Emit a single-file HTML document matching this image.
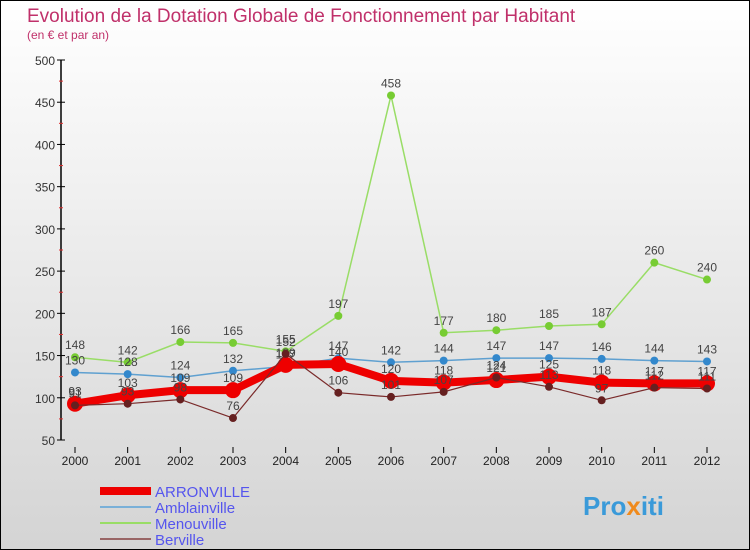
<!DOCTYPE html>
<html><head><meta charset="utf-8"><style>
body{margin:0;}
#c{width:750px;height:550px;position:relative;overflow:hidden;font-family:"Liberation Sans",sans-serif;}
svg text{font-family:"Liberation Sans",sans-serif;}
</style></head><body>
<div id="c">
<svg id="s" width="750" height="550" xmlns="http://www.w3.org/2000/svg">
<defs><linearGradient id="bg" x1="0" y1="0" x2="0" y2="1"><stop offset="0" stop-color="#ffffff"/><stop offset="1" stop-color="#d4d4d4"/></linearGradient></defs>
<rect x="0.5" y="0.5" width="749" height="549" fill="url(#bg)" stroke="#000"/>
<text x="27" y="22" font-size="19" fill="#c0306a">Evolution de la Dotation Globale de Fonctionnement par Habitant</text>
<text x="27" y="39" font-size="12" fill="#c0306a">(en € et par an)</text>
<g id="axes"></g><g id="series"></g><g id="legend"></g>
<text x="583" y="515" font-size="26" font-weight="bold" fill="#3a9ad9">Pro<tspan fill="#f08a1c">x</tspan>iti</text>
</svg></div>
<script>
const years=[2000,2001,2002,2003,2004,2005,2006,2007,2008,2009,2010,2011,2012];
const yTicks=[50,100,150,200,250,300,350,400,450,500];
const arronville=[93,103,109,109,139,140,120,118,121,125,118,117,117];
const amblainville=[130,128,124,132,137,147,142,144,147,147,146,144,143];
const menouville=[148,142,166,165,155,197,458,177,180,185,187,260,240];
const berville=[91,93,98,76,152,106,101,107,124,113,97,112,111];
const NS="http://www.w3.org/2000/svg";
function X(i){return 75+i*(707-75)/(years.length-1);}
function Y(v){return 440-(v-50)*(380/450);}
function mk(t,a,p){const e=document.createElementNS(NS,t);for(const k in a)e.setAttribute(k,a[k]);p.appendChild(e);return e;}
const ax=document.getElementById('axes');
const yl=mk('line',{x1:61,y1:Y(500),x2:61,y2:Y(50),stroke:'#000','stroke-width':1.5},ax);


yTicks.forEach(v=>{
 const t=mk('line',{x1:57,x2:65,y1:Y(v),y2:Y(v),stroke:'#000'},ax);
 
 
 if(v<500){const m=mk('line',{x1:59,x2:63,y1:Y(v+25),y2:Y(v+25),stroke:'#e03030'},ax);
 
 }
 const l=mk('text',{x:55,y:Y(v)+5,'text-anchor':'end','font-size':12,fill:'#333'},ax);l.textContent=v;
 
 
});
years.forEach((y,i)=>{
 const t=mk('line',{x1:X(i),x2:X(i),y1:447,y2:453,stroke:'#000'},ax);
 
 
 const l=mk('text',{x:X(i),y:465,'text-anchor':'middle','font-size':12,fill:'#222'},ax);l.textContent=y;
 
 
});
const sg=document.getElementById('series');
function series(name,data,color,w,r,dot){
 const g=mk('g',{},sg);
 
 
 const ln=mk('polyline',{points:data.map((v,i)=>X(i)+','+Y(v)).join(' '),fill:'none',stroke:color,'stroke-width':w},g);
 
 
 data.forEach((v,i)=>{
  const c=mk('circle',{cx:X(i),cy:Y(v),r:r,fill:dot},g);
  
  
  const t=mk('text',{x:X(i),y:Y(v)-8,'text-anchor':'middle','font-size':12,fill:'#444'},g);t.textContent=v;
  
  
 });
}
series('menouville',menouville,'#99dd66',1.5,4,'#77cc33');
series('amblainville',amblainville,'#5fa0d0',1.5,4,'#3388cc');
series('arronville',arronville,'#ee0000',8,8,'#ee0000');
series('berville',berville,'#7a2a2a',1.2,4,'#662020');
const lg=document.getElementById('legend');
[['ARRONVILLE','#ee0000',8],['Amblainville','#7ab0d8',2],['Menouville','#99dd66',2],['Berville','#996666',2]].forEach((d,i)=>{
 const y=491+i*16;
 const l=mk('line',{x1:100,x2:151,y1:y,y2:y,stroke:d[1],'stroke-width':d[2]},lg);
 
 
 const t=mk('text',{x:155,y:y+6,'font-size':15,fill:'#5555ee'},lg);t.textContent=d[0];
 
 
});
</script>
</body></html>
